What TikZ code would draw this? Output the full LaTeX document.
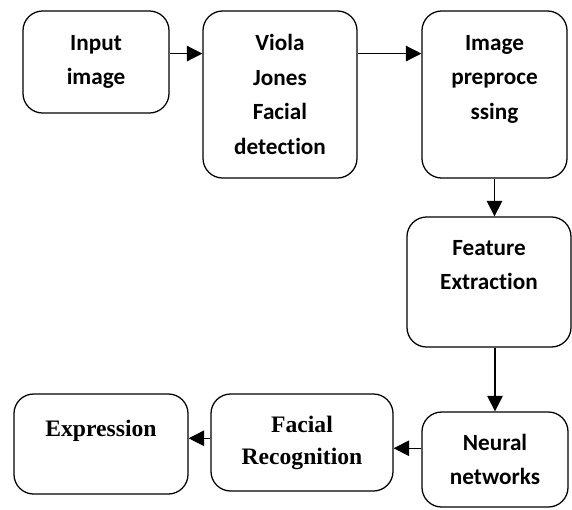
\documentclass[tikz,border=0pt]{standalone}
\usepackage{fontspec}
\setmainfont{Carlito}[Ligatures=NoCommon]
\newfontfamily\timesfont{Liberation Serif}
\usetikzlibrary{arrows.meta}

\tikzset{
  box/.style={draw, line width=0.9pt, rounded corners=14pt, align=center,
    inner sep=0pt, font=\fontsize{16.5}{24.5}\selectfont\bfseries},
  tbox/.style={box, font=\timesfont\fontsize{16.8}{22.7}\selectfont\bfseries},
  arr/.style={line width=0.9pt, -{Triangle[length=11pt,width=11pt]}}
}

\begin{document}
\begin{tikzpicture}[x=0.025cm,y=-0.025cm]
  \useasboundingbox (0,0) rectangle (572,509);

  \node[box, minimum width=3.65cm, minimum height=2.55cm] (input) at (96,62) {Input\\image};
  \node[box, minimum width=3.85cm, minimum height=4.175cm] (viola) at (280,94.5) {Viola\\Jones\\Facial\\detection};
  \node[box, minimum width=3.625cm, minimum height=4.175cm] (prep) at (494.5,94.5) {Image\\preproce\\ssing\\~};
  \draw[arr] ([yshift=6pt]input.east) -- ([yshift=6pt]input.east -| viola.west);
  \draw[arr] ([yshift=6pt]input.east -| viola.east) -- ([yshift=6pt]input.east -| prep.west);

  \node[box, minimum width=4.1cm, minimum height=3.25cm] (feat) at (489,282) {Feature\\Extraction\\~};
  \draw[arr] (prep.south) -- (prep.south |- feat.north);

  \node[box, minimum width=3.65cm, minimum height=2.375cm] (neural) at (495,459.5) {Neural\\networks};
  \draw[arr] (feat.south -| neural.north) -- (neural.north);

  \node[tbox, minimum width=4.55cm, minimum height=2.425cm] (facial) at (302,442.5) {Facial\\Recognition};
  \node[tbox, minimum width=4.35cm, minimum height=2.5cm] (expr) at (101,444) {Expression\\~};
  \draw[arr] ([yshift=8pt]neural.west) -- ([yshift=8pt]neural.west -| facial.east);
  \draw[arr] ([yshift=3pt]facial.west) -- ([yshift=3pt]facial.west -| expr.east);
\end{tikzpicture}
\end{document}
